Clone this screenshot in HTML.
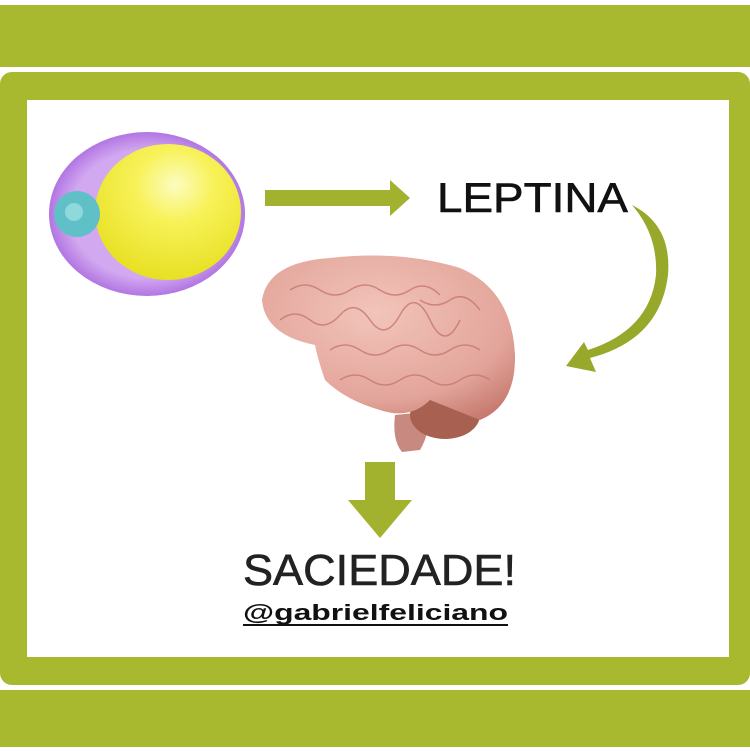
<!DOCTYPE html>
<html><head><style>
html,body{margin:0;padding:0;background:#fff;}
body{width:750px;height:747px;overflow:hidden;position:relative;font-family:"Liberation Sans",sans-serif;}
</style></head><body>
<svg width="750" height="747" viewBox="0 0 750 747" xmlns="http://www.w3.org/2000/svg">
<defs>
<radialGradient id="yel" cx="0.55" cy="0.3" r="0.75"><stop offset="0" stop-color="#fcfcc0"/><stop offset="0.35" stop-color="#f8f25a"/><stop offset="1" stop-color="#e6de1c"/></radialGradient>
<radialGradient id="pur" cx="0.5" cy="0.5" r="0.6"><stop offset="0.65" stop-color="#d2a8f0"/><stop offset="1" stop-color="#9448d6"/></radialGradient>
<radialGradient id="brain" cx="0.45" cy="0.35" r="0.75"><stop offset="0" stop-color="#f2c4ba"/><stop offset="0.7" stop-color="#e3a59b"/><stop offset="1" stop-color="#c77b70"/></radialGradient>
</defs>
<rect x="0" y="5" width="750" height="62" fill="#a8b82f"/>
<rect x="0" y="72" width="750" height="613" rx="12" fill="#a8b82f"/>
<rect x="27" y="100" width="702" height="557" fill="#fff"/>
<rect x="0" y="690" width="750" height="57" fill="#a8b82f"/>
<!-- cell -->
<ellipse cx="147" cy="214" rx="98" ry="82" fill="url(#pur)"/>
<ellipse cx="168" cy="212" rx="73" ry="68" fill="url(#yel)"/>
<circle cx="77" cy="214" r="23" fill="#5fc0c8"/>
<circle cx="74" cy="212" r="9" fill="#8fd8dc"/>
<!-- right arrow -->
<polygon points="265,190 390,190 390,180 410,198 390,216 390,206 265,206" fill="#a3b22e"/>
<text x="437" y="212" font-size="42" fill="#111" stroke="#111" stroke-width="0.6" textLength="191" lengthAdjust="spacingAndGlyphs">LEPTINA</text>
<!-- curved arrow -->
<path d="M632,205 Q672,225 668,275 Q660,340 590,358 L596,372 L566,366 L584,342 L588,350 Q650,330 656,275 Q658,235 632,205Z" fill="#97a82a"/>
<!-- brain -->
<path d="M395,415 Q392,440 402,452 L420,450 Q432,430 425,412Z" fill="#c88a80"/>
<ellipse cx="445" cy="415" rx="35" ry="24" fill="#a86050"/>
<path d="M262,300 Q268,262 330,258 Q400,250 460,268 Q512,290 515,355 Q516,405 480,420 Q455,410 430,400 Q410,420 380,410 Q345,400 325,380 Q318,360 315,345 Q265,335 262,300Z" fill="url(#brain)"/>
<g fill="none" stroke="#c7786e" stroke-width="1.5" opacity="0.8">
<path d="M290,290 q15,-10 30,0 t30,0 t30,0 t30,0 t30,5"/>
<path d="M280,320 q15,-12 30,0 t30,-5 t30,5 t30,-5 t30,5 t30,0"/>
<path d="M330,350 q15,-10 30,0 t30,0 t30,0 t30,0 t30,0"/>
<path d="M340,380 q15,-10 30,0 t30,0 t30,0 t30,0 t30,0"/>
<path d="M420,300 q15,10 30,0 t30,10"/>
</g>
<!-- down arrow -->
<polygon points="365,462 395,462 395,500 412,500 380,538 348,500 365,500" fill="#a3b22e"/>
<text x="243" y="585" font-size="44" fill="#222" stroke="#222" stroke-width="0.6" textLength="273" lengthAdjust="spacingAndGlyphs">SACIEDADE!</text>
<text x="243" y="620" font-size="22" font-weight="bold" fill="#111" textLength="265" lengthAdjust="spacingAndGlyphs">@gabrielfeliciano</text>
<rect x="243" y="624" width="265" height="2" fill="#111"/>
</svg>
</body></html>
